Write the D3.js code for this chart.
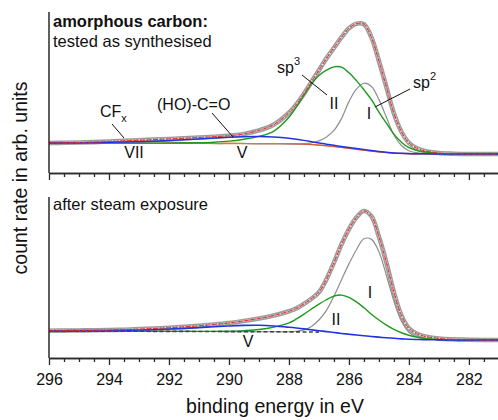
<!DOCTYPE html>
<html><head><meta charset="utf-8">
<script src="https://cdn.jsdelivr.net/npm/d3@7"></script>
<style>html,body{margin:0;padding:0;background:#fff;} svg{display:block;}</style>
</head><body>
<svg id="chart" width="498" height="420"></svg>
<script>
// binding energy grid (eV)
const energy = [296,295.5,295,294.5,294,293.5,293,292.5,292,291.5,291,290.5,290,289.5,289,288.5,
  288,287.75,287.5,287.25,287,286.75,286.5,286.25,286,285.75,285.5,285.25,285,284.75,284.5,284.25,284,283.75,283.5,
  283,282.5,282,281.5,281];
const xTicksMajor = [296,294,292,290,288,286,284,282];
const xTicksMinor = [295.5,295,294.5,293.5,293,292.5,291.5,291,290.5,289.5,289,288.5,287.5,287,286.5,285.5,285,284.5,283.5,283,282.5,281.5];

// top panel: as synthesised (arb. units)
const topMeasured = [8.4,8.6,8.8,9.1,9.5,10.0,10.5,11.0,11.5,12.0,12.6,13.2,13.9,15.3,18.0,22.5,
  31.5,38,46,55,64,73,81,89,96,99.5,99,89,71,51,31,17,8.5,4.5,2.5,0.7,0.2,0,0,0];
const topBackground = [8.3,8.3,8.3,8.3,8.2,8.2,8.2,8.2,8.2,8.1,8.1,8.0,8.0,8.0,7.9,7.9,
  7.8,7.7,7.5,7.2,6.8,6.3,5.7,5.0,4.3,3.6,2.9,2.2,1.6,1.1,0.7,0.4,0.2,0.1,0.05,0,0,0,0,0];
const topCompVII = [8.4,8.4,8.5,8.7,9.1,9.6,9.9,9.7,9.2,8.7,8.4,8.2,8.1,8.0,7.9,7.9,
  7.8,7.7,7.5,7.2,6.8,6.3,5.7,5.0,4.3,3.6,2.9,2.2,1.6,1.1,0.7,0.4,0.2,0.1,0.05,0,0,0,0,0];
const topCompV = [8.4,8.5,8.6,8.7,8.9,9.1,9.4,9.8,10.3,10.9,11.5,12.2,12.8,13.2,13.3,12.9,
  12.0,11.3,10.4,9.4,8.4,7.5,6.6,5.8,5.0,4.2,3.4,2.6,1.9,1.3,0.8,0.5,0.3,0.15,0.1,0,0,0,0,0];
const topCompII = [8.3,8.3,8.3,8.3,8.3,8.3,8.3,8.3,8.3,8.4,8.6,9.0,9.8,11.3,13.4,17.5,
  28,36,45,53.5,60,64,66.5,66.3,62,56,49,41.5,32,23.5,15.2,9,4.8,2.8,1.7,0.5,0.1,0,0,0];
const topCompI = [8.3,8.3,8.3,8.3,8.2,8.2,8.2,8.2,8.2,8.1,8.1,8.0,8.0,8.0,7.9,7.9,
  7.8,7.8,7.9,8.5,10,13,18,27,40,49.5,54,51.5,41.5,28,14.5,6.5,2.5,1.0,0.4,0.1,0,0,0,0];

// bottom panel: after steam exposure (arb. units)
const bottomMeasured = [7.2,7.3,7.4,7.5,7.7,8.0,8.4,8.9,9.5,10.2,11.0,12.0,13.2,14.8,16.7,19.0,
  22.3,24.5,28,32,37,47,60,74,86,95,100,96,80,60,37,19,9,5,3,1.2,0.5,0.2,0,0];
const bottomBackground = [6.9,6.9,6.9,6.9,6.8,6.8,6.8,6.7,6.7,6.7,6.6,6.6,6.5,6.5,6.4,6.4,
  6.3,6.3,6.2,6.2,6.1,null,null,null,null,null,null,null,null,null,null,null,null,null,null,null,null,null,null,null];
const bottomCompV = [7.2,7.2,7.3,7.3,7.4,7.6,7.8,8.1,8.5,9.0,9.6,10.3,10.9,11.3,11.4,10.9,
  9.9,9.3,8.6,7.9,7.2,6.5,5.8,5.1,4.5,3.9,3.3,2.7,2.2,1.7,1.3,0.9,0.6,0.4,0.25,0.1,0,0,0,0];
const bottomCompII = [6.9,6.9,6.9,6.9,6.8,6.8,6.8,6.7,6.7,6.7,6.7,6.7,6.9,7.3,8.1,10.0,
  13.2,16.3,20,24,27.8,31.2,34,34.8,33,29.5,25,20,15.5,11.5,8.2,5.6,3.7,2.3,1.3,0.4,0.1,0,0,0];
const bottomCompI = [6.9,6.9,6.9,6.9,6.8,6.8,6.8,6.7,6.7,6.7,6.6,6.6,6.5,6.5,6.4,6.4,
  6.4,6.8,7.8,10.5,15.5,23,34,46.5,59,70,78.5,78,68.5,50,30,14.5,6,2.5,1.0,0.3,0.1,0,0,0];

const FONT = '"Liberation Sans", Arial, Helvetica, sans-serif';
const svg = d3.select('#chart').style('font-family', FONT);
const x = d3.scaleLinear().domain([296, 281.03]).range([49, 498]);

const panels = [
  { id: 'top', y: d3.scaleLinear().domain([0, 100]).range([154, 23]), yTop: 12, yAxis: 173, labels: false,
    series: [
      { v: topBackground, color: '#e4892e', w: 1.3 },
      { v: topCompVII, color: '#d2553a', w: 1.1 },
      { v: topCompI, color: '#8e8e8e', w: 1.2 },
      { v: topCompII, color: '#1c9a1c', w: 1.4 },
      { v: topCompV, color: '#2233e6', w: 1.5 }
    ], measured: topMeasured },
  { id: 'bot', y: d3.scaleLinear().domain([0, 100]).range([340, 211]), yTop: 197, yAxis: 358, labels: true,
    series: [
      { v: bottomCompI, color: '#8e8e8e', w: 1.2 },
      { v: bottomCompII, color: '#1c9a1c', w: 1.4 },
      { v: bottomBackground, color: '#444', w: 1.6, dash: '4,2.5' },
      { v: bottomCompV, color: '#2233e6', w: 1.6 }
    ], measured: bottomMeasured }
];

panels.forEach(p => {
  const g = svg.append('g');
  const clipId = 'clip-' + p.id;
  svg.append('clipPath').attr('id', clipId).append('rect')
    .attr('x', 49).attr('y', p.yTop).attr('width', 498 - 49).attr('height', p.yAxis - p.yTop);
  const line = d3.line()
    .defined(v => v != null)
    .x((v, i) => x(energy[i]))
    .y(v => p.y(v))
    .curve(d3.curveCatmullRom.alpha(0.5));
  const cg = g.append('g').attr('clip-path', `url(#${clipId})`);
  // measured data: chain of open circles
  cg.append('path').attr('d', line(p.measured)).attr('fill', 'none')
    .attr('stroke', '#9c9c9c').attr('stroke-width', 4.6).attr('stroke-linecap', 'round');
  cg.append('path').attr('d', line(p.measured)).attr('fill', 'none')
    .attr('stroke', '#ececec').attr('stroke-width', 1.7).attr('stroke-dasharray', '2,1.3');
  p.series.forEach(s => {
    cg.append('path').attr('d', line(s.v)).attr('fill', 'none')
      .attr('stroke', s.color).attr('stroke-width', s.w)
      .attr('stroke-dasharray', s.dash || null);
  });
  // fit envelope
  cg.append('path').attr('d', line(p.measured)).attr('fill', 'none')
    .attr('stroke', '#f02828').attr('stroke-width', 1).attr('stroke-dasharray', '5,1.5');

  // axes
  const minor = d3.axisBottom(x).tickValues(xTicksMinor).tickSize(4).tickSizeOuter(0).tickFormat('');
  const major = d3.axisBottom(x).tickValues(xTicksMajor).tickSize(7).tickSizeOuter(0)
    .tickFormat(p.labels ? d3.format('d') : '').tickPadding(9);
  const ga = g.append('g').attr('transform', `translate(0,${p.yAxis})`);
  ga.call(minor);
  const gm = g.append('g').attr('transform', `translate(0,${p.yAxis})`).call(major);
  [ga, gm].forEach(a => {
    a.selectAll('path,line').attr('stroke', '#2a2a2a').attr('stroke-width', 1.3);
  });
  gm.selectAll('text').attr('font-size', 16).attr('font-family', FONT).attr('fill', '#111');
  g.append('line').attr('x1', 49).attr('x2', 49).attr('y1', p.yTop).attr('y2', p.yAxis)
    .attr('stroke', '#2a2a2a').attr('stroke-width', 1.5);
});

// text helpers
function txt(str, x0, y0, opts = {}) {
  return svg.append('text').attr('x', x0).attr('y', y0).text(str)
    .attr('font-size', opts.size || 16).attr('font-weight', opts.bold ? 'bold' : null)
    .attr('text-anchor', opts.anchor || 'start').attr('fill', '#111');
}
function leader(x1, y1, x2, y2) {
  svg.append('line').attr('x1', x1).attr('y1', y1).attr('x2', x2).attr('y2', y2)
    .attr('stroke', '#111').attr('stroke-width', 1);
}

// top panel annotations
txt('amorphous carbon:', 53, 27, { bold: true, size: 16.5 });
txt('tested as synthesised', 53, 47, { size: 16.5 });
const cf = txt('CF', 100, 117, { size: 16 });
cf.append('tspan').attr('font-size', 11).attr('dy', 5).text('x');
leader(112, 124, 124, 138);
txt('VII', 134, 158, { anchor: 'middle' });
txt('(HO)-C=O', 157, 110, { size: 16 });
leader(212, 113, 233, 137);
txt('V', 242, 158, { anchor: 'middle' });
const sp3 = txt('sp', 277, 73, { size: 16 });
sp3.append('tspan').attr('font-size', 11).attr('dy', -8).text('3');
leader(302, 75, 327, 95);
txt('II', 334, 109, { anchor: 'middle' });
const sp2 = txt('sp', 413, 88, { size: 16 });
sp2.append('tspan').attr('font-size', 11).attr('dy', -8).text('2');
leader(410, 89, 375, 107);
txt('I', 369, 119, { anchor: 'middle' });

// bottom panel annotations
txt('after steam exposure', 53, 210, { size: 16.5 });
txt('I', 370, 298, { anchor: 'middle' });
txt('II', 336, 325, { anchor: 'middle' });
txt('V', 248, 347, { anchor: 'middle' });

// axis titles
txt('binding energy in eV', 275, 413, { anchor: 'middle', size: 19.5 });
svg.append('text').attr('transform', 'translate(27,178) rotate(-90)')
  .attr('text-anchor', 'middle').attr('font-size', 19.5).attr('fill', '#111')
  .text('count rate in arb. units');
</script>
</body></html>
